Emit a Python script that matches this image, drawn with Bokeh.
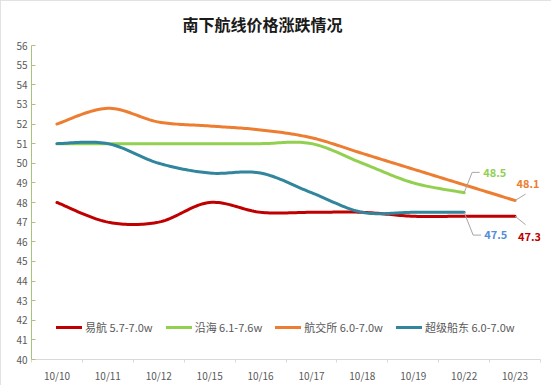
import numpy as np
from bokeh.plotting import figure
from bokeh.models import FixedTicker, Range1d, Legend, LegendItem
from bokeh.core.properties import value
from bokeh.embed import file_html
from bokeh.resources import INLINE

# ---- data ----
dates = ["10/10", "10/11", "10/12", "10/15", "10/16", "10/17", "10/18", "10/19", "10/22", "10/23"]
yihang = [48, 47, 47, 48, 47.5, 47.5, 47.5, 47.3, 47.3, 47.3]
yanhai = [51, 51, 51, 51, 51, 51, 50, 49, 48.5]
hangjiaosuo = [52, 52.8, 52.1, 51.9, 51.7, 51.3, 50.5, 49.7, 48.9, 48.1]
chaoji = [51, 51, 50, 49.5, 49.5, 48.5, 47.5, 47.5, 47.5]
series_names = ["易航 5.7-7.0w", "沿海 6.1-7.6w", "航交所 6.0-7.0w", "超级船东 6.0-7.0w"]
y_ticks = list(range(40, 57))

# ---- style ----
line_colors = ["#c00000", "#92d050", "#ed7d31", "#31859c"]
label_colors = ["#c00000", "#92d050", "#ed7d31", "#558ed5"]
CJK = "Noto Sans CJK SC"
GRAY_TXT = "#595959"

W, H = 551, 385
BL, BR, BT, BB = 31, 11, 42, 26
FRAME_W, FRAME_H = W - BL - BR, H - BT - BB
PX_X = len(dates) / FRAME_W      # data units per pixel (x)
PX_Y = (56 - 40) / FRAME_H       # data units per pixel (y)


def smooth(vals, n=24):
    """Excel-like smoothed line (cubic Bezier through the points)."""
    P = np.column_stack([np.arange(len(vals), dtype=float), np.asarray(vals, float)])
    xs, ys = [], []
    t = np.linspace(0, 1, n)[:, None]
    for i in range(len(P) - 1):
        p0 = P[i - 1] if i > 0 else P[i]
        p1, p2 = P[i], P[i + 1]
        p3 = P[i + 2] if i + 2 < len(P) else P[i + 1]
        c1 = p1 + (p2 - p0) / 6.0
        c2 = p2 - (p3 - p1) / 6.0
        B = (1 - t) ** 3 * p1 + 3 * (1 - t) ** 2 * t * c1 + 3 * (1 - t) * t ** 2 * c2 + t ** 3 * p2
        if i > 0:
            B = B[1:]
        xs.extend(B[:, 0]); ys.extend(B[:, 1])
    return xs, ys


p = figure(width=W, height=H,
           output_backend="svg", toolbar_location=None,
           x_range=Range1d(-0.5, len(dates) - 0.5), y_range=Range1d(40, 56),
           min_border_left=BL, min_border_right=BR, min_border_top=BT, min_border_bottom=BB)
p.outline_line_color = None
p.xgrid.visible = False
p.ygrid.visible = False
p.background_fill_color = "white"
p.border_fill_color = "white"
p.styles = {"outline": "1px solid #d9d9d9", "outline-offset": "-1px"}

p.title.text = "南下航线价格涨跌情况"
p.title.text_font = CJK
p.title.text_font_size = "16px"
p.title.text_font_style = "bold"
p.title.text_color = "#1a1a1a"
p.title.align = "left"
p.title.offset = 151
p.title.standoff = 19

# y axis
ya = p.yaxis[0]
ya.ticker = FixedTicker(ticks=y_ticks)
ya.axis_line_color = "#a8c47c"
ya.major_tick_line_color = "#a8c47c"
ya.major_tick_in = 4
ya.major_tick_out = 0
ya.minor_tick_line_color = None
ya.major_label_text_font = CJK
ya.major_label_text_font_size = "10px"
ya.major_label_text_color = GRAY_TXT
ya.major_label_standoff = 4

# x axis
xa = p.xaxis[0]
xa.ticker = FixedTicker(ticks=list(range(len(dates))),
                        minor_ticks=[i - 0.5 for i in range(len(dates) + 1)])
xa.major_label_overrides = {i: d for i, d in enumerate(dates)}
xa.axis_line_color = "#d9d9d9"
xa.major_tick_line_color = None
xa.major_tick_in = 0
xa.major_tick_out = 0
xa.minor_tick_line_color = "#d9d9d9"
xa.minor_tick_in = 0
xa.minor_tick_out = 3
xa.major_label_text_font = CJK
xa.major_label_text_font_size = "10px"
xa.major_label_text_color = GRAY_TXT
xa.major_label_standoff = 5

all_series = [yihang, yanhai, hangjiaosuo, chaoji]
renderers = []
for vals, col in zip(all_series, line_colors):
    xs, ys = smooth(vals)
    r = p.line(xs, ys, line_color=col, line_width=3, line_cap="round", line_join="round")
    renderers.append(r)

# end-point data labels with leader lines (offsets in pixels)
end_specs = [
    (0, 3, 20, [(0, 0), (10.5, 8.5)]),
    (1, 19, -20, [(0, 0), (8, -20.5), (15.5, -20.5)]),
    (2, 1.5, -17, [(0, 0), (10.5, -6.5)]),
    (3, 20, 22.5, [(0, 0), (9, 23), (17, 23)]),
]
for si, dx, dy, path in end_specs:
    vals = all_series[si]
    ix = len(vals) - 1
    v = vals[ix]
    lx = [ix + ox * PX_X for ox, oy in path]
    ly = [v - oy * PX_Y for ox, oy in path]
    p.line(lx, ly, line_color="#a6a6a6", line_width=1)
    p.text(x=[ix], y=[v], text=[f"{v:g}"], x_offset=dx, y_offset=dy,
           text_color=label_colors[si], text_font=value(CJK), text_font_size="11px",
           text_font_style="bold", text_align="left", text_baseline="middle")

legend = Legend(items=[LegendItem(label=n, renderers=[r]) for n, r in zip(series_names, renderers)],
                orientation="horizontal", location=(25, 24))
legend.padding = 0
legend.margin = 0
legend.spacing = 13
legend.label_standoff = 3
legend.glyph_width = 26
legend.glyph_height = 14
legend.label_height = 14
legend.label_text_font = CJK
legend.label_text_font_size = "11px"
legend.label_text_color = GRAY_TXT
legend.border_line_color = None
legend.background_fill_alpha = 0
p.add_layout(legend)

open("out.html", "w").write(file_html(p, INLINE))
